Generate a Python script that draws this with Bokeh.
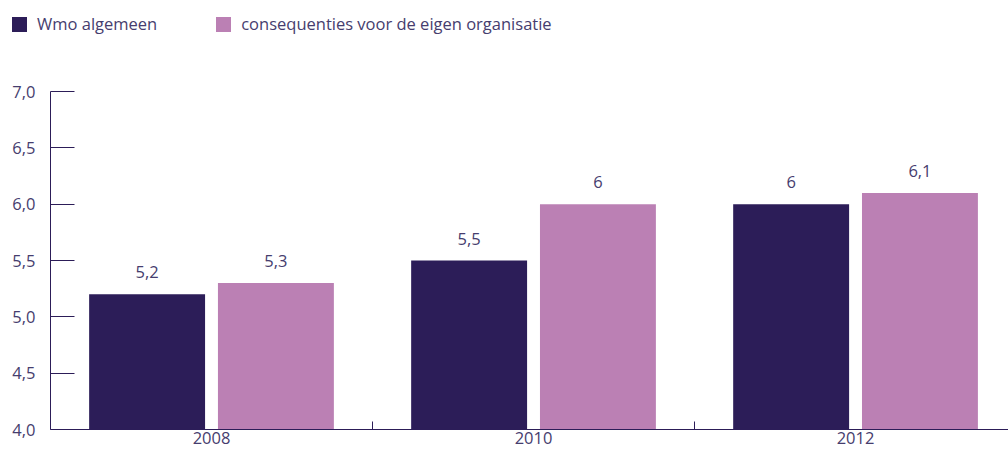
from bokeh.plotting import figure
from bokeh.models import ColumnDataSource, FixedTicker, Range1d, LabelSet, Div
from bokeh.transform import dodge
from bokeh.layouts import column
from bokeh.core.properties import value
from bokeh.embed import file_html
from bokeh.resources import INLINE

years = ["2008", "2010", "2012"]
wmo_algemeen = [5.2, 5.5, 6.0]
consequenties = [5.3, 6.0, 6.1]
y_ticks = [4.0, 4.5, 5.0, 5.5, 6.0, 6.5, 7.0]
series_names = ["Wmo algemeen", "consequenties voor de eigen organisatie"]

DARK = "#2c1d58"
PINK = "#bb80b4"
TEXT = "#463d6e"
FONT = "Open Sans"
FS = "16.5px"

def fmt(v, keep_decimal=False):
    s = f"{v:.1f}" if keep_decimal else f"{v:g}"
    return s.replace(".", ",")

xs = [i + 0.5 for i in range(len(years))]
src = ColumnDataSource(dict(
    x=xs, wmo=wmo_algemeen, cons=consequenties,
    wmo_lbl=[fmt(v) for v in wmo_algemeen],
    cons_lbl=[fmt(v) for v in consequenties],
))

# ---- legend strip (HTML) ----
items_html = ""
for i, (name, colr) in enumerate(zip(series_names, [DARK, PINK])):
    gap = "59px" if i < len(series_names) - 1 else "0"
    items_html += (
        f'<span style="display:inline-block;width:15px;height:15px;background:{colr};'
        f'margin-right:10px;flex:none"></span>'
        f'<span style="margin-right:{gap};white-space:nowrap">{name}</span>'
    )
leg = Div(
    text=(f'<div style="display:flex;align-items:center;padding:13px 0 0 12px;'
          f'font-family:\'{FONT}\';font-size:{FS};line-height:22px;color:{TEXT}">'
          f'{items_html}</div>'),
    width=1008, height=40, margin=0,
)

# ---- main chart ----
p = figure(width=1008, height=411, output_backend="svg", toolbar_location=None,
           x_range=Range1d(0, 2.975), y_range=Range1d(4.0, 7.453),
           min_border_left=50, min_border_right=0, min_border_top=0, min_border_bottom=22)
p.outline_line_color = None
p.grid.visible = False

p.vbar(x=dodge("x", -0.2), top="wmo", width=0.36, source=src, color=DARK, line_color=None)
p.vbar(x=dodge("x", 0.2), top="cons", width=0.36, source=src, color=PINK, line_color=None)

for col, lbl, off in [("wmo", "wmo_lbl", -0.2), ("cons", "cons_lbl", 0.2)]:
    ls = LabelSet(x=dodge("x", off), y=col, text=lbl, source=src, y_offset=16,
                  text_align="center", text_baseline="alphabetic",
                  text_font=value(FONT), text_font_size=value(FS), text_color=TEXT)
    p.add_layout(ls)

ya = p.yaxis[0]
ya.ticker = FixedTicker(ticks=y_ticks)
ya.major_label_overrides = {v: fmt(v, True) for v in y_ticks}
ya.bounds = (y_ticks[0], y_ticks[-1])
ya.major_tick_in = 24
ya.major_tick_out = 0
ya.minor_tick_line_color = None
ya.axis_line_color = DARK
ya.major_tick_line_color = DARK
ya.major_label_standoff = 15
ya.major_label_text_font = FONT
ya.major_label_text_font_size = FS
ya.major_label_text_color = TEXT

xa = p.xaxis[0]
xa.ticker = FixedTicker(ticks=xs, minor_ticks=[i for i in range(1, len(years))])
xa.major_label_overrides = {x: y for x, y in zip(xs, years)}
xa.major_tick_in = 0
xa.major_tick_out = 0
xa.minor_tick_in = 8
xa.minor_tick_out = 0
xa.minor_tick_line_color = DARK
xa.axis_line_color = DARK
xa.major_label_standoff = 2
xa.major_label_text_font = FONT
xa.major_label_text_font_size = FS
xa.major_label_text_color = TEXT

layout = column(leg, p, spacing=0)
open("out.html", "w").write(file_html(layout, INLINE))
